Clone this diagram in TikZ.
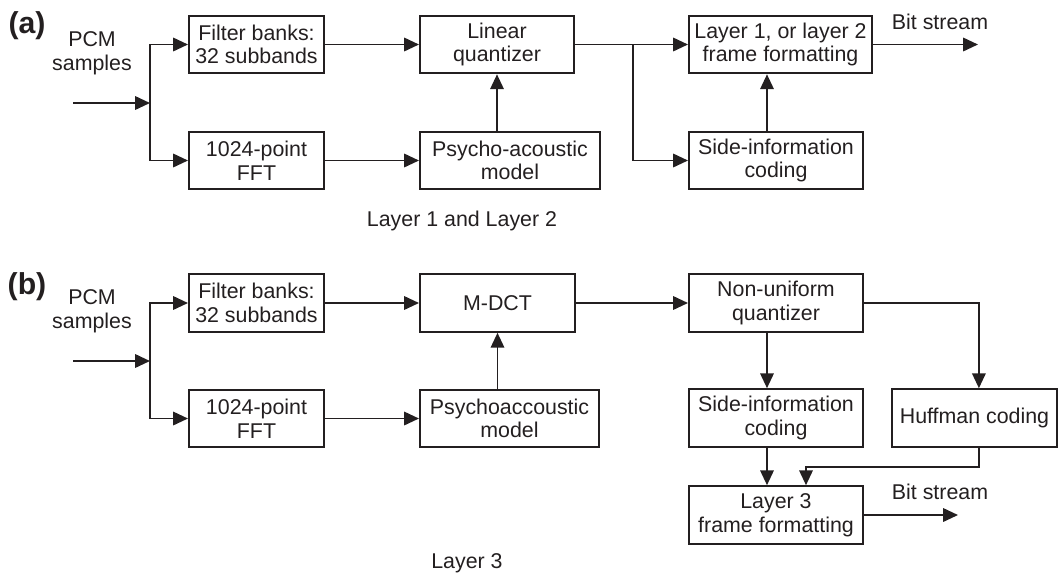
\documentclass[tikz,border=0pt]{standalone}
\usepackage{fontspec}
\setmainfont{Liberation Sans}
\usepackage{tikz}
\usetikzlibrary{arrows.meta,positioning,calc}
\usepackage{xcolor}
\definecolor{ink}{RGB}{35,31,32}
\newcommand{\blkfont}{\fontsize{15.2pt}{16.8pt}\selectfont}
\newcommand{\tagfont}{\fontsize{21.5pt}{24pt}\selectfont\bfseries}

\begin{document}
\begin{tikzpicture}[x=0.025cm,y=-0.025cm,
  blk/.style={draw=ink,line width=1.4pt,minimum height=1.44cm,inner sep=0pt,
    align=center,text=ink,font=\blkfont},
  lbl/.style={text=ink,align=center,font=\blkfont,inner sep=0pt},
  tag/.style={text=ink,font=\tagfont,inner sep=0pt},
  arr/.style={draw=ink,line width=1.4pt,-{Triangle[length=10.5pt,width=9.5pt]}}]
  \useasboundingbox (0,0) rectangle (1058,575);
  % (a) layer 1 and layer 2
  \node[tag] (taga) at (27,26) {(a)};
  \node[lbl] (pcma) at (92,53) {PCM\\samples};
  \node[blk,minimum width=3.375cm] (fba) at (256.5,44.5) {Filter banks:\\32 subbands};
  \node[blk,minimum width=3.375cm] (ffta) at (256.5,160.5) {1024-point\\FFT};
  \node[blk,minimum width=3.85cm] (lqa) at (497,44.5) {Linear\\quantizer};
  \node[blk,minimum width=4.5cm] (pama) at (510,160.5) {Psycho-acoustic\\model};
  \node[blk,minimum width=4.575cm] (ffa) at (780.5,44.5) {Layer 1, or layer 2\\frame formatting};
  \node[blk,minimum width=4.35cm] (sidea) at (776,160.5) {Side-information\\coding};
  \node[lbl] (bsa) at (940,22) {Bit stream};
  \node[lbl] (capa) at (462,221) {Layer 1 and Layer 2};
  \coordinate (ina) at (73,103);
  \coordinate (spla) at (150,103);
  \coordinate (tapa) at (633,44.5);
  \coordinate (outa) at (978,44.5);
  \draw[arr] (ina) -- (spla);
  \draw[arr] (spla) |- (fba.west);
  \draw[arr] (spla) |- (ffta.west);
  \draw[arr] (fba) -- (lqa);
  \draw[arr] (ffta) -- (pama);
  \draw[arr] (pama.north -| lqa.south) -- (lqa.south);
  \draw[arr] (lqa) -- (ffa);
  \draw[arr] (tapa) |- (sidea.west);
  \draw[arr] ([xshift=-0.225cm]sidea.north) -- ([xshift=-0.225cm]sidea.north |- ffa.south);
  \draw[arr] (ffa) -- (outa);
  % (b) layer 3
  \node[tag] (tagb) at (27,287) {(b)};
  \node[lbl] (pcmb) at (92,311) {PCM\\samples};
  \node[blk,minimum width=3.375cm] (fbb) at (256.5,303) {Filter banks:\\32 subbands};
  \node[blk,minimum width=3.375cm] (fftb) at (256.5,418.5) {1024-point\\FFT};
  \node[blk,minimum width=3.875cm] (mdct) at (497.5,303) {M-DCT};
  \node[blk,minimum width=4.475cm] (pamb) at (509.5,418.5) {Psychoaccoustic\\model};
  \node[blk,minimum width=4.35cm] (nuq) at (776,303) {Non-uniform\\quantizer};
  \node[blk,minimum width=4.35cm] (sideb) at (776,418) {Side-information\\coding};
  \node[blk,minimum width=4.125cm] (huff) at (974.5,418) {Huffman coding};
  \node[blk,minimum width=4.35cm] (ffb) at (776,515) {Layer 3\\frame formatting};
  \node[lbl] (bsb) at (940,492) {Bit stream};
  \node[lbl] (capb) at (467,563) {Layer 3};
  \coordinate (inb) at (73,361);
  \coordinate (splb) at (150,361);
  \coordinate (jnb) at (806,467);
  \coordinate (outb) at (958,515);
  \draw[arr] (inb) -- (splb);
  \draw[arr] (splb) |- (fbb.west);
  \draw[arr] (splb) |- (fftb.west);
  \draw[arr] (fbb) -- (mdct);
  \draw[arr] (fftb) -- (pamb);
  \draw[arr] (pamb.north -| mdct.south) -- (mdct.south);
  \draw[arr] (mdct) -- (nuq);
  \draw[arr] ([xshift=-0.225cm]nuq.south) -- ([xshift=-0.225cm]nuq.south |- sideb.north);
  \draw[arr] (nuq.east) -| ([xshift=0.11cm]huff.north);
  \draw[arr] ([xshift=-0.225cm]sideb.south) -- ([xshift=-0.225cm]sideb.south |- ffb.north);
  \draw[arr] ([xshift=0.11cm]huff.south) |- (jnb) -- (jnb |- ffb.north);
  \draw[arr] (ffb) -- (outb);
\end{tikzpicture}
\end{document}
